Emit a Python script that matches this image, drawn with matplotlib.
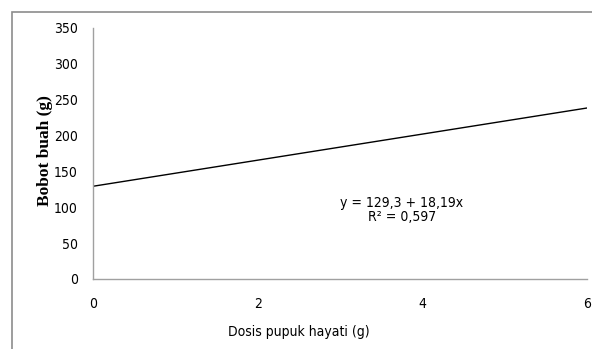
import matplotlib.pyplot as plt
from matplotlib.patches import Rectangle

# regression line endpoints (dosis, bobot)
dosis = [0, 6]
intercept = 129.3
slope = 18.19
bobot = [intercept + slope * d for d in dosis]

x_ticks = [0, 2, 4, 6]
y_ticks = [0, 50, 100, 150, 200, 250, 300, 350]

sans = dict(family='DejaVu Sans', stretch='condensed')

fig = plt.figure(figsize=(5.92, 3.49), dpi=100)
ax = fig.add_axes([0.1571, 0.2006, 0.8345, 0.7192])

# outer frame (cropped on right and bottom)
fig.patches.append(Rectangle((12 / 592, -0.2), 1.2, 0.2 + 1 - 12 / 349,
                             transform=fig.transFigure, fill=False,
                             edgecolor='#8c8c8c', linewidth=1.2))

ax.plot(dosis, bobot, color='black', linewidth=1.0)

ax.set_xlim(0, 6)
ax.set_ylim(0, 350)
ax.set_xticks(x_ticks)
ax.set_yticks(y_ticks)
ax.tick_params(length=0, labelsize=10, pad=11)
ax.tick_params(axis='x', pad=13)
for lab in ax.get_xticklabels() + ax.get_yticklabels():
    lab.set_family(sans['family'])
    lab.set_stretch(sans['stretch'])

for s in ['top', 'right']:
    ax.spines[s].set_visible(False)
for s in ['left', 'bottom']:
    ax.spines[s].set_color('#a0a0a0')
    ax.spines[s].set_linewidth(1.0)

ax.set_xlabel('Dosis pupuk hayati (g)', fontsize=10, **sans)
ax.xaxis.set_label_coords(0.417, -0.185)
ax.set_ylabel('Bobot buah (g)', family='Liberation Serif', fontweight='semibold',
              fontsize=12.5)
ax.yaxis.set_label_coords(-0.08, 0.51)

ax.text(3.75, 106, 'y = 129,3 + 18,19x', fontsize=10,
        ha='center', va='center', **sans)
ax.text(3.75, 86, 'R² = 0,597', fontsize=10,
        ha='center', va='center', **sans)

fig.savefig('out.png', dpi=100)
